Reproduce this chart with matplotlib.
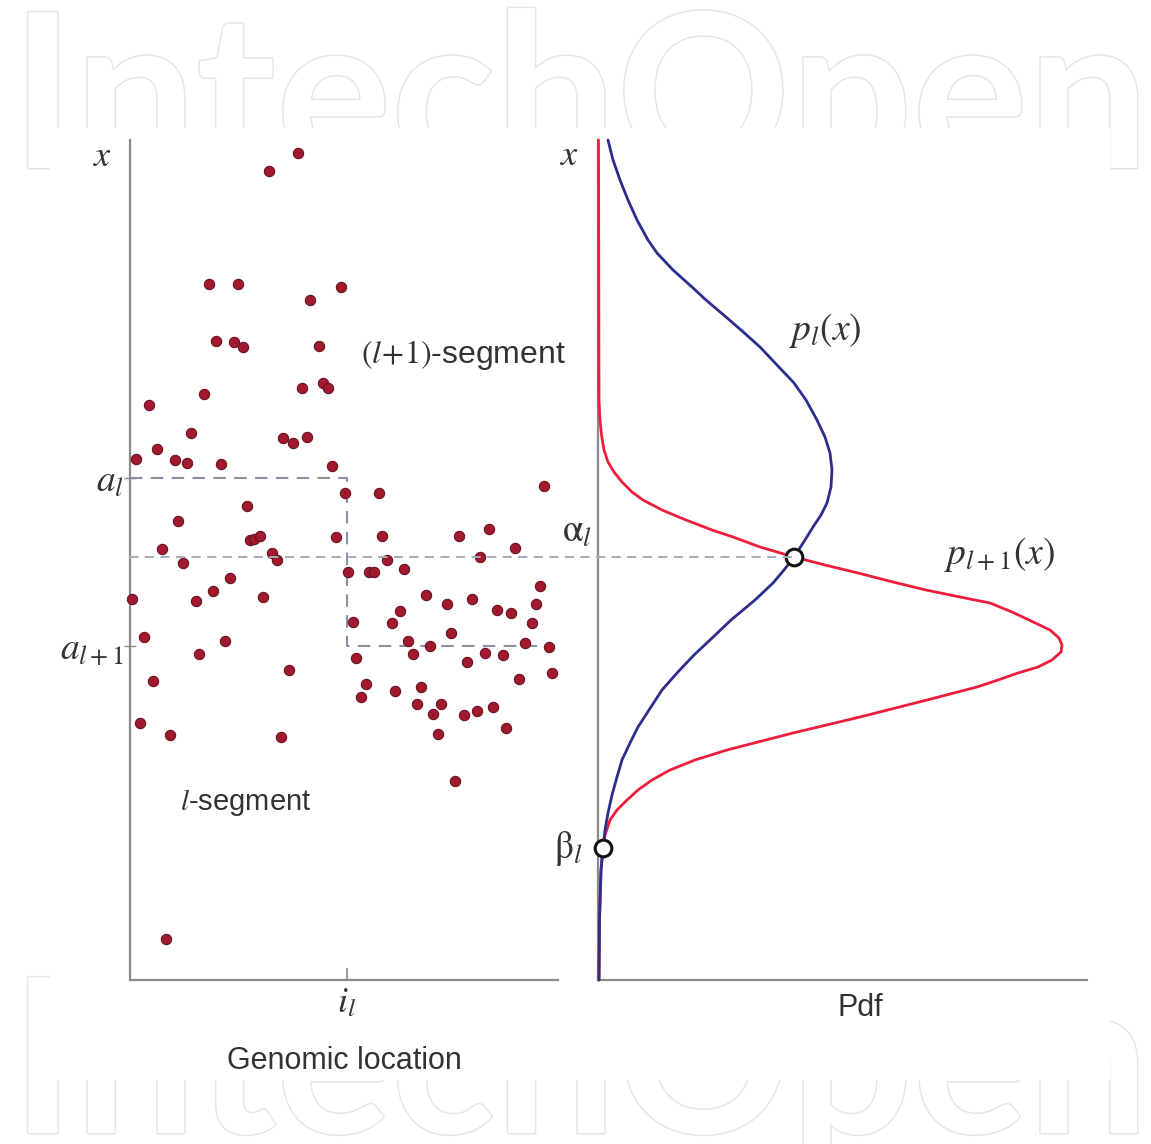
import matplotlib
matplotlib.use("Agg")
import matplotlib.pyplot as plt
import matplotlib.patheffects as pe
from matplotlib.patches import Rectangle, ConnectionPatch

plt.rcParams['font.family'] = ['Liberation Sans', 'DejaVu Sans']
plt.rcParams['mathtext.fontset'] = 'stix'

# scatter: genomic location / measured value x
loc = [16.8, 13.9, 7.9, 10.8, 21.1, 18.0, 8.6, 10.4, 11.3, 18.9,
       7.4, 17.2, 19.3, 19.8, 1.9, 6.1, 15.3, 16.3, 17.7, 2.7,
       0.6, 4.5, 5.7, 9.1, 20.2, 21.5, 24.9, 41.4, 11.7, 4.8,
       12.0, 12.4, 13.0, 20.6, 25.2, 32.9, 35.9, 3.2, 5.3, 14.2,
       14.7, 25.7, 35.0, 38.5, 21.8, 23.9, 24.4, 27.4, 10.0, 0.2,
       6.6, 8.3, 13.3, 22.3, 26.2, 27.0, 29.6, 31.7, 34.2, 36.7,
       38.1, 41.0, 40.6, 40.2, 32.1, 1.4, 9.5, 6.9, 27.8, 28.3,
       30.0, 35.5, 37.3, 39.5, 41.9, 22.6, 33.7, 38.9, 42.2, 2.3,
       15.9, 23.6, 23.1, 26.5, 29.1, 28.7, 31.1, 30.3, 33.4, 34.7,
       36.3, 37.6, 30.8, 1.0, 4.0, 15.1, 32.5, 3.6]
val = [82.7, 80.9, 69.6, 69.6, 69.3, 68.0, 63.9, 63.8, 63.3, 63.4,
       58.6, 59.2, 59.7, 59.2, 57.5, 54.7, 54.2, 53.7, 54.3, 53.1,
       52.1, 52.0, 51.7, 51.6, 51.4, 48.7, 48.7, 49.4, 47.4, 45.9,
       44.0, 44.1, 44.4, 44.3, 44.4, 44.4, 45.1, 43.1, 41.7, 42.7,
       42.0, 42.0, 42.3, 43.2, 40.8, 40.8, 40.8, 41.1, 40.2, 38.1,
       37.9, 38.9, 38.3, 35.8, 35.7, 36.9, 38.5, 37.6, 38.1, 37.0,
       36.7, 39.4, 37.6, 35.7, 34.7, 34.3, 33.9, 32.6, 33.9, 32.6,
       33.4, 32.7, 32.5, 33.7, 33.3, 32.2, 31.8, 30.1, 30.7, 29.9,
       31.0, 29.6, 28.3, 28.9, 29.3, 27.6, 27.6, 26.6, 26.5, 26.9,
       27.3, 25.2, 24.6, 25.7, 24.5, 24.3, 19.9, 4.1]

# segment levels and breakpoint
i_l = 21.7
a_l = 50.2
a_l1 = 33.4
seg_end = 42.5
alpha_l = 42.3
beta_l = 13.2
alpha_pdf = 19.6
beta_pdf = 0.5

# p_l(x): blue curve (x value, density)
blue_x = [84.0, 82.0, 80.0, 78.0, 76.0, 74.0, 72.7, 71.0, 69.3, 68.0,
          66.3, 65.0, 63.3, 61.5, 59.7, 58.0, 56.0, 54.3, 52.7, 51.0,
          49.3, 47.7, 46.5, 45.3, 44.0, 42.3, 41.0, 39.7, 38.0, 36.0,
          34.0, 32.5, 30.7, 29.0, 27.0, 25.3, 23.7, 22.0, 20.3, 18.5,
          16.7, 15.0, 13.2, 11.0, 6.0, 0.0]
blue_p = [1.0, 1.5, 2.2, 3.0, 3.9, 5.0, 5.9, 7.5, 9.4, 10.8,
          12.8, 14.3, 16.2, 17.9, 19.6, 20.8, 21.9, 22.7, 23.2, 23.4,
          23.3, 22.9, 22.3, 21.5, 20.7, 19.6, 18.6, 17.5, 15.7, 13.3,
          11.2, 9.6, 7.9, 6.4, 5.1, 4.0, 3.2, 2.4, 1.9, 1.4,
          1.0, 0.7, 0.5, 0.3, 0.15, 0.1]

# p_{l+1}(x): red curve (x value, density)
red_x = [84.0, 58.0, 56.0, 54.5, 53.0, 51.8, 50.8, 49.8, 48.8, 48.0,
         47.0, 46.0, 45.0, 44.3, 43.3, 42.3, 41.5, 40.7, 39.8, 39.0,
         38.3, 37.7, 36.8, 36.0, 35.0, 34.2, 33.5, 32.8, 32.0, 31.3,
         30.7, 30.0, 29.3, 28.0, 26.3, 24.7, 23.0, 22.0, 21.0, 20.0,
         19.0, 18.0, 17.0, 16.0, 14.5, 13.2, 11.0, 6.0, 0.0]
red_p = [0.05, 0.1, 0.2, 0.35, 0.6, 1.0, 1.6, 2.4, 3.4, 4.5,
         6.4, 8.8, 11.4, 13.5, 16.2, 19.6, 22.7, 26.0, 29.5, 32.8,
         36.2, 39.2, 41.4, 43.1, 45.2, 46.1, 46.4, 46.3, 45.4, 44.0,
         42.0, 40.0, 37.9, 32.9, 26.2, 19.5, 12.9, 9.7, 7.2, 5.4,
         4.0, 2.9, 1.9, 1.2, 0.7, 0.5, 0.3, 0.15, 0.1]

W, H = 1151, 1144
fig = plt.figure(figsize=(W / 100, H / 100), dpi=100)

# watermark behind the chart
wm_kw = dict(fontsize=155, fontfamily='Lato', fontweight='bold', color='white',
             ha='left', va='baseline', zorder=-3,
             path_effects=[pe.Stroke(linewidth=2.2, foreground='#e6e6e6'), pe.Normal()])
fig.text(11 / W, 1 - 168 / H, 'IntechOpen', **wm_kw)
fig.text(11 / W, 1 - 1133 / H, 'IntechOpen', **wm_kw)
fig.patches.append(Rectangle((50 / W, 1 - 1080 / H), 1060 / W, 952 / H,
                             transform=fig.transFigure, facecolor='white',
                             edgecolor='none', zorder=-2))

ax1 = fig.add_axes([130 / W, 1 - 980 / H, 428 / W, 840 / H])
ax2 = fig.add_axes([598 / W, 1 - 980 / H, 489 / W, 840 / H])

spine_c = '#8a8a8a'
txt_c = '#333333'
for ax in (ax1, ax2):
    ax.set_facecolor('none')
    ax.set_ylim(0, 84)
    for s in ('top', 'right'):
        ax.spines[s].set_visible(False)
    for s in ('left', 'bottom'):
        ax.spines[s].set_color(spine_c)
        ax.spines[s].set_linewidth(1.6)
ax1.set_xlim(0, 42.8)
ax2.set_xlim(0, 48.9)

# left panel
ax1.plot([0, i_l, i_l, seg_end], [a_l, a_l, a_l1, a_l1], color='#8990a6',
         lw=1.5, dashes=(6, 4), zorder=2)
ax1.scatter(loc, val, s=55, facecolor='#a3192d', edgecolor='#671321',
            linewidth=0.8, zorder=4, clip_on=False)

ax1.set_xticks([i_l], labels=[r'$i_l$'])
ax1.set_yticks([a_l, a_l1], labels=[r'$a_l$', r'$a_{l+1}$'])
ax1.tick_params(axis='x', direction='in', length=9, color=spine_c, width=1.2,
                labelsize=26, labelcolor=txt_c, pad=4)
ax1.tick_params(axis='y', direction='inout', length=9, color=spine_c, width=1.0,
                labelsize=27, labelcolor=txt_c, pad=0)
ax1.set_xlabel('Genomic location', fontsize=22, color=txt_c)
ax1.xaxis.set_label_coords(0.502, -0.079)
ax1.text(-0.063, 0.98, r'$x$', transform=ax1.transAxes, fontsize=26,
         color=txt_c, ha='center', va='center')
ax1.text(33.3, 62.5, r'$(l\!+\!1)$-segment', fontsize=23, color=txt_c,
         ha='center', va='center')
ax1.text(11.6, 17.7, r'$l$-segment', fontsize=21, color=txt_c,
         ha='center', va='center')

# right panel
line_kw = dict(lw=2.0, zorder=3, clip_on=False, solid_joinstyle='round',
               solid_capstyle='round')
ax2.plot(red_p, red_x, color='#ec1e3c', **line_kw)
ax2.plot(blue_p, blue_x, color='#2c2d8c', **line_kw)
ax2.plot([alpha_pdf, beta_pdf], [alpha_l, beta_l], 'o', ms=12, mfc='white',
         mec='#111111', mew=2.2, zorder=5, clip_on=False)
ax2.set_xticks([])
ax2.set_yticks([])
ax2.set_xlabel('Pdf', fontsize=22, color=txt_c)
ax2.xaxis.set_label_coords(0.536, -0.016)
ax2.text(-0.058, 0.982, r'$x$', transform=ax2.transAxes, fontsize=26,
         color=txt_c, ha='center', va='center')
ax2.text(-0.6, alpha_l + 0.7, r'$\mathrm{\alpha}_l$', fontsize=27, color=txt_c,
         ha='right', va='bottom')
ax2.text(-1.5, beta_l, r'$\mathrm{\beta}_l$', fontsize=27, color=txt_c,
         ha='right', va='center')
ax2.text(22.7, 65.0, r'$p_l(x)$', fontsize=27, color=txt_c,
         ha='center', va='center')
ax2.text(40.2, 42.5, r'$p_{l+1}(x)$', fontsize=27, color=txt_c,
         ha='center', va='center')

# alpha level linking both panels
con = ConnectionPatch(xyA=(0, alpha_l), coordsA=ax1.transData,
                      xyB=(alpha_pdf, alpha_l), coordsB=ax2.transData,
                      color='#a4abbb', lw=1.4, linestyle=(0, (4, 4)), zorder=1)
fig.add_artist(con)

fig.savefig('out.png', dpi=100)
